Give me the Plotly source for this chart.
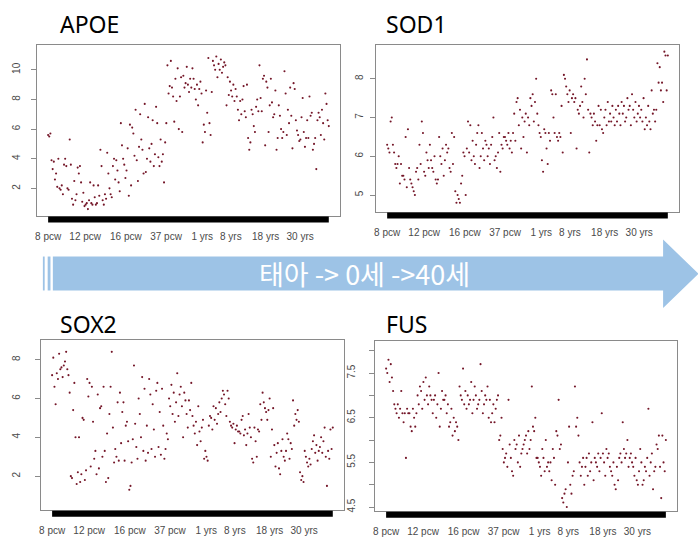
import plotly.graph_objects as go

W, H = 698, 542

# ---------------- data ----------------
age_labels = ["8 pcw", "12 pcw", "16 pcw", "37 pcw", "1 yrs", "8 yrs", "18 yrs", "30 yrs"]
# position of each age label along the ordered samples (fraction of sample span)
age_tick_frac = [0.0, 0.132, 0.277, 0.420, 0.549, 0.651, 0.775, 0.898]

apoe = [5.6, 5.5, 5.7, 3.9, 3.3, 3.8, 2.6, 3.0, 2.1, 4.0,
        2.0, 1.9, 2.2, 1.6, 3.6, 4.0, 3.5, 2.0, 1.9, 5.3, 3.6,
        1.3, 0.9, 2.5, 1.2, 1.6, 3.4, 3.0, 3.5, 2.4, 1.1, 1.7,
        0.8, 0.9, 1.0, 0.6, 1.2, 2.4, 1.0, 0.9, 2.2, 1.4,
        0.9, 1.0, 2.2, 1.5, 4.6, 3.5, 1.2, 0.9, 1.6, 1.3, 4.4,
        3.0, 2.0, 1.6, 1.4, 3.5, 4.0, 2.6, 3.9, 3.2, 2.4, 1.8,
        6.4, 4.9, 4.0, 3.6, 2.7, 3.2, 4.7, 1.5, 6.3, 2.2,
        6.1, 5.7, 4.2, 7.3, 3.9, 2.5, 4.8, 7.0, 5.3, 4.6, 3.0,
        7.7, 3.1, 4.0, 6.8, 4.7, 3.8, 5.0, 6.6, 3.5, 4.3,
        7.5, 6.4, 4.1, 3.5, 5.3, 3.8, 4.3, 2.4, 5.1, 6.4,
        10.3, 8.4, 8.9, 10.6, 8.8, 8.2, 6.5, 9.4, 7.9, 10.1, 6.0,
        8.2, 9.5, 5.8, 9.6, 8.8, 9.1, 10.2, 9.0, 8.5, 9.4,
        8.8, 10.1, 9.4, 8.7, 8.0, 9.0, 7.6, 8.7, 9.2, 8.4,
        5.1, 6.3, 5.8, 8.6, 7.1, 10.8, 6.4, 5.6, 8.5, 10.6,
        10.3, 10.0, 10.9, 9.5, 10.4, 10.0, 10.7, 9.8, 10.2, 10.5,
        10.3, 7.6, 9.5, 8.3, 9.2, 8.6, 8.2, 9.0, 7.9, 8.7,
        8.2, 7.3, 6.6, 7.9, 7.0, 8.0, 8.9, 7.2, 6.8, 9.0,
        5.4, 4.6, 5.1, 7.3, 7.0, 6.2, 5.8, 7.5, 8.0, 7.2,
        10.3, 8.1, 7.2, 9.4, 9.6, 4.9, 9.2, 8.8, 5.8, 7.6,
        9.4, 7.8, 6.8, 7.0, 8.6, 4.6, 5.4, 7.6, 6.9, 6.0,
        5.4, 5.8, 9.9, 8.4, 5.6, 7.3, 6.4, 8.8, 6.9, 4.7,
        9.1, 8.7, 6.6, 5.9, 5.6, 5.2, 5.3, 6.8, 8.1, 5.8,
        4.8, 5.4, 6.6, 5.4, 8.2, 6.9, 7.1, 4.6, 5.0, 5.4,
        3.3, 6.6, 7.1, 6.8, 5.6, 7.3, 6.4, 5.3, 8.4, 7.7, 6.6, 6.2]

sod1 = [6.3, 6.2, 6.1, 6.9, 7.0, 6.3, 6.1, 5.8, 5.7, 5.8, 6.0,
        5.3, 5.8, 5.5, 5.5, 5.4, 6.5, 5.2, 6.7, 5.7, 5.4,
        5.3, 5.2, 5.1, 5.0, 5.6, 5.7, 5.4, 6.3, 5.8, 6.9, 6.6,
        5.6, 5.5, 6.1, 5.9, 5.7, 6.3, 5.9, 5.7, 5.6, 6.0,
        5.4, 5.3, 5.4, 6.5, 6.0, 5.8, 6.2, 5.5, 5.9, 6.3,
        6.1, 6.2, 5.7, 5.6, 6.6, 5.8, 6.5, 5.1, 4.8, 5.0,
        4.9, 4.8, 5.3, 5.5, 6.1, 6.0, 5.0, 6.2, 6.9, 6.1,
        6.8, 5.9, 6.4, 6.0, 5.8, 6.3, 6.6, 6.8, 5.7, 6.0,
        6.6, 6.2, 5.9, 6.4, 6.3, 6.0, 6.2, 5.8, 6.3, 6.5,
        7.0, 5.9, 6.0, 5.7, 6.1, 6.6, 5.6, 6.3, 6.2, 6.5,
        6.5, 6.4, 6.3, 6.6, 6.2, 6.4, 6.1, 6.6, 7.1, 6.4,
        7.4, 7.5, 6.8, 7.2, 6.2, 7.0, 6.5, 6.9, 7.1, 6.1,
        7.0, 6.8, 7.5, 7.3, 7.6, 6.9, 7.4, 8.0, 7.1, 6.8,
        6.6, 6.5, 5.9, 5.6, 6.7, 6.6, 6.2, 5.8, 6.6, 6.4,
        7.7, 7.6, 7.0, 6.6, 7.6, 6.5, 6.4, 6.6, 6.5, 7.3, 6.1,
        8.1, 8.0, 7.8, 7.6, 7.4, 7.7, 6.6, 7.5, 7.6, 7.4,
        7.5, 6.2, 7.2, 7.1, 7.3, 7.8, 7.4, 7.0, 8.0, 7.6,
        8.5, 7.2, 6.1, 7.1, 7.0, 6.8, 7.1, 6.9, 6.4, 6.8,
        7.3, 6.8, 7.2, 6.7, 6.6, 7.0, 7.2, 6.8, 7.4, 6.9,
        7.1, 6.9, 7.3, 7.0, 6.8, 7.2, 6.9, 7.3, 7.1, 6.8,
        7.4, 7.1, 7.3, 6.9, 7.0, 7.5, 7.2, 7.3, 6.8, 7.6,
        7.2, 7.0, 7.4, 6.9, 7.1, 7.3, 7.0, 7.2, 6.9, 7.5,
        6.7, 7.0, 6.8, 7.3, 6.9, 6.7, 7.7, 7.1, 7.2, 6.9,
        7.2, 8.4, 7.9, 8.3, 7.7, 7.9, 7.4, 8.7, 8.6, 7.7, 8.6]

sox2 = [7.2, 8.1, 6.6, 5.7, 7.3, 7.0, 8.3, 7.5, 7.6, 7.1,
        7.7, 7.9, 8.4, 7.5, 7.2, 6.3, 2.0, 1.9, 5.4, 6.8,
        4.0, 1.6, 2.2, 4.0, 1.7, 2.1, 5.0, 4.9, 1.8, 2.3,
        7.0, 6.1, 6.8, 2.5, 6.6, 4.8, 2.9, 3.3, 2.1, 6.2,
        2.4, 5.5, 5.6, 3.0, 6.6, 3.3, 1.7, 4.2, 1.9, 5.2,
        6.6, 8.4, 4.5, 2.7, 3.4, 3.0, 5.8, 2.8, 6.3, 3.7,
        5.3, 5.8, 2.8, 4.6, 4.8, 3.8, 1.3, 1.5, 2.7, 3.9,
        7.7, 4.7, 3.5, 2.9, 6.0, 5.2, 4.0, 7.1, 3.3, 6.5,
        2.8, 4.6, 3.2, 7.0, 6.2, 3.4, 5.7, 4.4, 3.0, 6.4,
        6.8, 3.5, 5.3, 3.1, 6.5, 4.6, 2.9, 3.4, 4.2, 3.9,
        6.0, 5.6, 6.7, 5.2, 6.3, 4.8, 5.8, 7.3, 5.1, 6.2,
        6.6, 5.6, 4.0, 6.3, 5.9, 5.2, 4.5, 5.9, 5.4, 6.8,
        5.1, 4.6, 4.2, 4.8, 3.6, 5.6, 4.3, 3.8, 4.5, 4.9,
        2.9, 3.3, 3.0, 2.8, 4.6, 5.1, 5.0, 4.4, 5.6, 4.9,
        5.5, 4.7, 5.2, 5.8, 5.3, 6.0, 6.4, 6.2, 5.7, 5.1,
        6.4, 6.0, 4.8, 4.6, 4.5, 4.7, 3.7, 4.4, 4.6, 4.3,
        4.3, 4.2, 4.9, 5.1, 4.1, 4.4, 3.6, 4.2, 5.2, 4.5,
        4.0, 2.9, 2.7, 4.5, 3.8, 3.0, 4.4, 4.3, 5.7, 4.9,
        6.3, 5.8, 5.5, 5.3, 4.9, 5.4, 6.0, 3.0, 4.4, 5.5,
        3.6, 2.5, 3.2, 3.7, 2.4, 2.1, 3.3, 3.9, 3.0, 2.8,
        3.3, 4.2, 3.9, 2.9, 3.7, 3.4, 5.9, 4.6, 5.2, 4.9,
        5.4, 4.8, 2.2, 1.8, 2.0, 1.7, 3.3, 3.0, 2.7, 2.5,
        2.9, 2.6, 3.4, 3.8, 4.1, 3.2, 3.6, 2.8, 3.3, 3.5,
        4.0, 3.2, 3.8, 4.5, 3.0, 1.5, 3.3, 2.9, 4.4, 3.4, 4.5]

fus = [7.6, 7.5, 7.8, 7.3, 7.7, 7.4, 7.1, 6.8, 6.7, 6.6,
       6.8, 6.5, 6.7, 7.1, 6.6, 6.4, 6.6, 5.6, 6.7, 6.6,
       6.6, 6.3, 6.2, 6.7, 6.5, 6.3, 6.6, 7.0, 6.8, 7.2,
       7.1, 6.7, 7.3, 6.9, 7.4, 7.0, 6.8, 7.2, 7.0, 6.9,
       6.6, 6.9, 7.0, 6.5, 6.8, 7.5, 6.3, 6.7, 7.1, 6.9,
       6.9, 7.0, 6.6, 6.8, 6.3, 6.4, 6.7, 6.1, 6.5, 6.2,
       6.4, 6.3, 6.0, 7.2, 7.0, 6.9, 7.6, 6.8, 7.1, 6.7,
       7.0, 6.8, 6.9, 7.3, 6.6, 6.9, 7.2, 7.0, 6.7, 6.8,
       6.9, 7.7, 7.1, 6.6, 6.8, 7.0, 6.9, 7.2, 6.5, 6.9,
       6.4, 6.6, 6.8, 6.4, 6.7, 6.9, 7.0, 6.0, 6.1, 6.5,
       5.8, 5.5, 5.6, 5.7, 5.4, 6.9, 5.9, 5.6, 5.3, 5.2,
       6.0, 5.8, 5.9, 5.5, 6.1, 5.4, 5.7, 5.8, 5.9, 6.0,
       6.1, 5.7, 6.2, 5.8, 6.0, 7.2, 6.3, 6.2, 6.5, 5.6,
       5.6, 5.5, 5.4, 5.2, 5.8, 5.6, 5.3, 6.0, 5.4, 5.5,
       5.3, 5.5, 5.1, 5.8, 5.6, 5.0, 6.2, 6.1, 6.9, 5.8,
       5.9, 4.7, 4.6, 4.8, 4.9, 4.5, 5.5, 6.3, 5.0, 4.8,
       5.2, 5.3, 7.2, 6.3, 6.5, 6.1, 5.5, 5.2, 5.4, 5.6,
       5.0, 5.4, 5.6, 5.2, 5.7, 5.3, 5.5, 6.4, 5.1, 5.6,
       5.5, 5.4, 5.7, 5.3, 5.6, 6.6, 5.7, 5.5, 5.2, 5.8,
       5.6, 5.7, 5.4, 5.3, 5.2, 5.5, 5.0, 4.9, 5.4, 5.1,
       5.6, 5.7, 5.5, 6.4, 5.8, 5.6, 5.7, 6.0, 5.4, 5.6,
       5.7, 5.5, 5.4, 5.2, 5.6, 5.1, 5.0, 5.3, 5.8, 5.5,
       5.0, 5.1, 5.4, 5.3, 5.6, 6.7, 5.2, 5.5, 5.7, 4.9,
       5.3, 5.4, 5.9, 5.8, 6.1, 5.4, 4.7, 6.1, 5.5, 5.3, 6.0]

gene_names = ["APOE", "SOD1", "SOX2", "FUS"]
series = [apoe, sod1, sox2, fus]
y_tickvals = [[2, 4, 6, 8, 10], [5, 6, 7, 8], [2, 4, 6, 8],
              [4.5, 5.0, 5.5, 6.0, 6.5, 7.0, 7.5, 8.0]]
y_ticktext = [["2", "4", "6", "8", "10"], ["5", "6", "7", "8"], ["2", "4", "6", "8"],
              ["4.5", "", "5.5", "", "6.5", "", "7.5", ""]]
y_ranges = [[0.16, 11.68], [4.573, 8.874], [0.256, 8.99], [4.41, 8.21]]
arrow_text = "태아 -> 0세 ->40세"

# ---------------- layout (pixel boxes) ----------------
boxes = [(35, 45, 339, 216), (375, 45, 679, 212), (39, 341, 343, 511), (374, 342, 677, 512)]
title_pos = [(56, 24), (383, 24), (56, 325), (383, 325)]
ylab_standoff = [7, 3, 11, 10]

DOT = "#741628"
BOX = "#8a8a8a"
TXT = "#4a4a4a"
ARROW = "#9dc3e6"


def fx(p):
    return p / W


def fy(p):
    return 1 - p / H


fig = go.Figure()
layout_axes = {}
for i, vals in enumerate(series):
    n = len(vals)
    xs = list(range(1, n + 1))
    sfx = "" if i == 0 else str(i + 1)
    l, t, r, b = boxes[i]
    fig.add_trace(go.Scatter(
        x=xs, y=vals, mode="markers",
        marker=dict(size=2.1, color=DOT, line=dict(width=0)),
        xaxis="x" + sfx, yaxis="y" + sfx, showlegend=False, hoverinfo="skip"))
    pad = 0.04 * (n - 1)
    tickvals = [1 + f * (n - 1) for f in age_tick_frac]
    layout_axes["xaxis" + sfx] = dict(
        domain=[fx(l), fx(r)], anchor="y" + sfx, range=[1 - pad, n + pad],
        tickmode="array", tickvals=tickvals, ticktext=age_labels,
        ticks="outside", ticklen=11, tickcolor="rgba(0,0,0,0)",
        tickfont=dict(family="Liberation Sans, Arial", size=10, color=TXT),
        showgrid=False, zeroline=False, showline=True, mirror=True,
        linecolor=BOX, linewidth=1, fixedrange=True)
    layout_axes["yaxis" + sfx] = dict(
        domain=[fy(b), fy(t)], anchor="x" + sfx, range=y_ranges[i],
        tickmode="array", tickvals=y_tickvals[i], ticktext=y_ticktext[i],
        ticks="outside", ticklen=5, tickcolor=BOX, tickangle=-90,
        ticklabelstandoff=ylab_standoff[i],
        tickfont=dict(family="Liberation Sans, Arial", size=10, color=TXT),
        showgrid=False, zeroline=False, showline=True, mirror=True,
        linecolor=BOX, linewidth=1, fixedrange=True)
    # rug of sample ticks (solid black bar under the plot)
    fig.add_shape(type="rect", xref="x" + sfx, yref="paper",
                  x0=xs[0], x1=xs[-1], y0=fy(b + 6.8), y1=fy(b + 0.8),
                  fillcolor="black", line=dict(width=0), layer="above")
    fig.add_annotation(x=fx(title_pos[i][0]), y=fy(title_pos[i][1]), xref="paper", yref="paper",
                       text=gene_names[i], showarrow=False, xanchor="left", yanchor="middle",
                       font=dict(family="Noto Sans", size=23, color="black"))

# timeline arrow
arrow_pts = [(51, 257), (663, 257), (663, 240), (698.5, 274.3), (663, 308.5), (663, 291), (51, 291)]
path = "M " + " L ".join(f"{fx(px)},{fy(py)}" for px, py in arrow_pts) + " Z"
fig.add_shape(type="path", xref="paper", yref="paper", path=path,
              fillcolor=ARROW, line=dict(width=0), layer="below")
for x0, x1 in [(41, 42.8), (45.8, 48.6)]:
    fig.add_shape(type="rect", xref="paper", yref="paper", x0=fx(x0), x1=fx(x1),
                  y0=fy(291), y1=fy(257), fillcolor=ARROW, line=dict(width=0), layer="below")
fig.add_annotation(x=fx(364), y=fy(274), xref="paper", yref="paper", text=arrow_text,
                   showarrow=False, xanchor="center", yanchor="middle",
                   font=dict(family="Noto Sans CJK KR", size=27, color="white"))

fig.update_layout(width=W, height=H, margin=dict(l=0, r=0, t=0, b=0),
                  paper_bgcolor="white", plot_bgcolor="white", **layout_axes)

fig.write_html("out.html", config={"displayModeBar": False},
               post_script="document.body.style.margin='0px';")
